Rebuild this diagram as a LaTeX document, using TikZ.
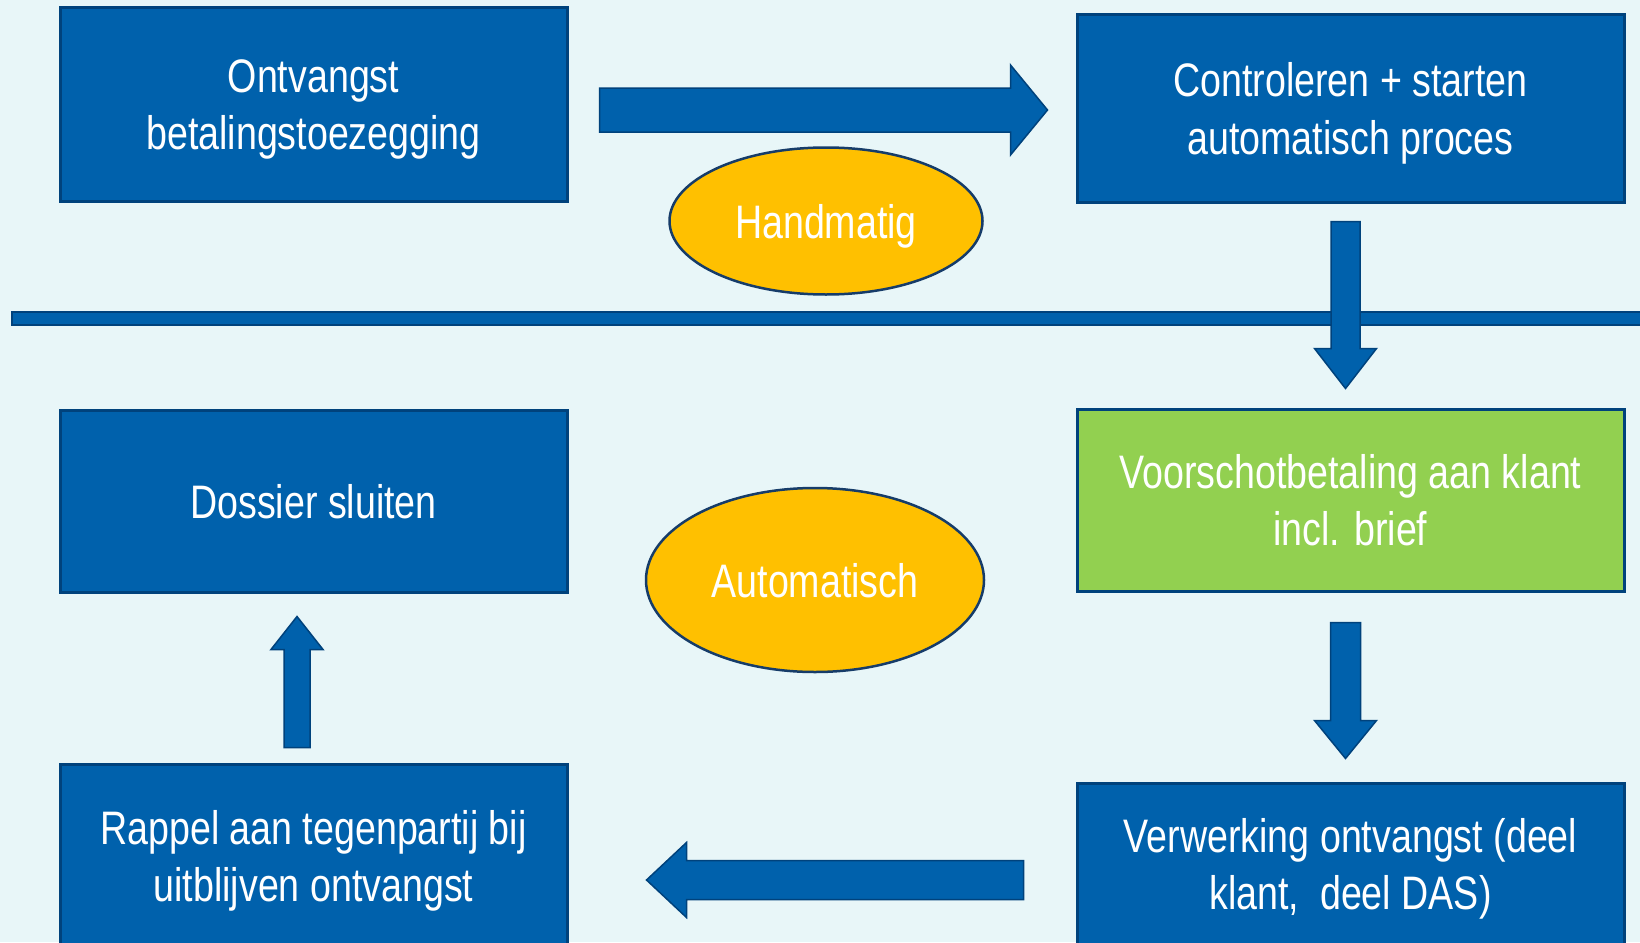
\documentclass[tikz,border=0pt]{standalone}
\usepackage{fontspec}
\newfontfamily\boxfont[FakeStretch=0.8]{Liberation Sans}
\usetikzlibrary{shapes.geometric,calc}
\definecolor{bg}{RGB}{232,246,248}
\definecolor{boxblue}{RGB}{0,97,172}
\definecolor{boxedge}{RGB}{0,66,124}
\definecolor{ovalyellow}{RGB}{255,192,0}
\definecolor{ovaledge}{RGB}{22,60,105}
\definecolor{boxgreen}{RGB}{146,208,80}
% #1 start, #2 tip, #3 shaft half width, #4 head half width, #5 signed head length
\newcommand{\hbarrow}[5]{%
  \draw[blockarrow] let \p1=(#1), \p2=(#2) in
  ({\x1},{\y1+#3}) -- ({\x2-(#5)},{\y1+#3}) -- ({\x2-(#5)},{\y1+#4}) -- ({\x2},{\y1})
  -- ({\x2-(#5)},{\y1-#4}) -- ({\x2-(#5)},{\y1-#3}) -- ({\x1},{\y1-#3}) -- cycle;}
\newcommand{\vbarrow}[5]{%
  \draw[blockarrow] let \p1=(#1), \p2=(#2) in
  ({\x1+#3},{\y1}) -- ({\x1+#3},{\y2-(#5)}) -- ({\x1+#4},{\y2-(#5)}) -- ({\x1},{\y2})
  -- ({\x1-#4},{\y2-(#5)}) -- ({\x1-#3},{\y2-(#5)}) -- ({\x1-#3},{\y1}) -- cycle;}
\begin{document}
\begin{tikzpicture}[x=1pt,y=-1pt,
  txt/.style={text=white, font=\boxfont\fontsize{47}{57.5}\selectfont, align=center, text depth=0pt},
  procbox/.style={txt, draw=boxedge, line width=3pt, fill=boxblue, inner sep=0pt},
  greenbox/.style={procbox, fill=boxgreen},
  oval/.style={txt, ellipse, draw=ovaledge, line width=2.5pt, fill=ovalyellow, inner sep=0pt},
  blockarrow/.style={fill=boxblue, draw=boxedge, line width=1.5pt, line join=miter}]
\useasboundingbox (0,0) rectangle (1640,942);
\clip (0,0) rectangle (1640,942);
\fill[bg] (0,0) rectangle (1640,942);
% divider
\draw[draw=boxedge, fill=boxblue, line width=1.5pt] (12,312) rectangle (1650,325);
% boxes
\node[procbox, minimum width=507pt, minimum height=193pt] (b1) at (313.5,104.5) {Ontvangst\\betalingstoezegging};
\node[procbox, minimum width=547pt, minimum height=187pt] (b2) at (1350.5,108.5) {Controleren + starten\\automatisch proces};
\node[greenbox, minimum width=547pt, minimum height=182pt] (b3) at (1350.5,500) {Voorschotbetaling aan klant\\incl. brief};
\node[procbox, minimum width=547pt, minimum height=162pt] (b4) at (1350.5,864) {Verwerking ontvangst (deel\\klant,\ \ deel DAS)};
\node[procbox, minimum width=507pt, minimum height=184pt] (b5) at (313.5,856) {Rappel aan tegenpartij bij\\uitblijven ontvangst};
\node[procbox, minimum width=507pt, minimum height=182pt] (b6) at (313.5,501) {Dossier sluiten};
% ovals
\node[oval, minimum width=313pt, minimum height=147pt] (hand) at (826,221) {Handmatig};
\node[oval, minimum width=338pt, minimum height=184pt] (auto) at (815,580) {Automatisch};
% arrow end points
\coordinate (a1s) at ($(b1.east)+(31,5.5)$);
\coordinate (a1t) at ($(b2.west)+(-28,1.5)$);
\coordinate (a2s) at ($(b2.south)+(-5,18)$);
\coordinate (a2t) at ($(b3.north)+(-5,-19)$);
\coordinate (a3s) at ($(b3.south)+(-5,30)$);
\coordinate (a3t) at ($(b4.north)+(-5,-23)$);
\coordinate (a4s) at ($(b4.west)+(-52,16)$);
\coordinate (a4t) at ($(b5.east)+(78,24)$);
\coordinate (a5s) at ($(b5.north)+(-16.5,-15)$);
\coordinate (a5t) at ($(b6.south)+(-16.5,23)$);
% block arrows
\hbarrow{a1s}{a1t}{22pt}{45pt}{37pt}
\vbarrow{a2s}{a2t}{14.5pt}{31pt}{-40pt}
\vbarrow{a3s}{a3t}{15pt}{31pt}{-38pt}
\hbarrow{a4s}{a4t}{19.5pt}{37.5pt}{-40pt}
\vbarrow{a5s}{a5t}{13pt}{26pt}{33pt}
\end{tikzpicture}
\end{document}
